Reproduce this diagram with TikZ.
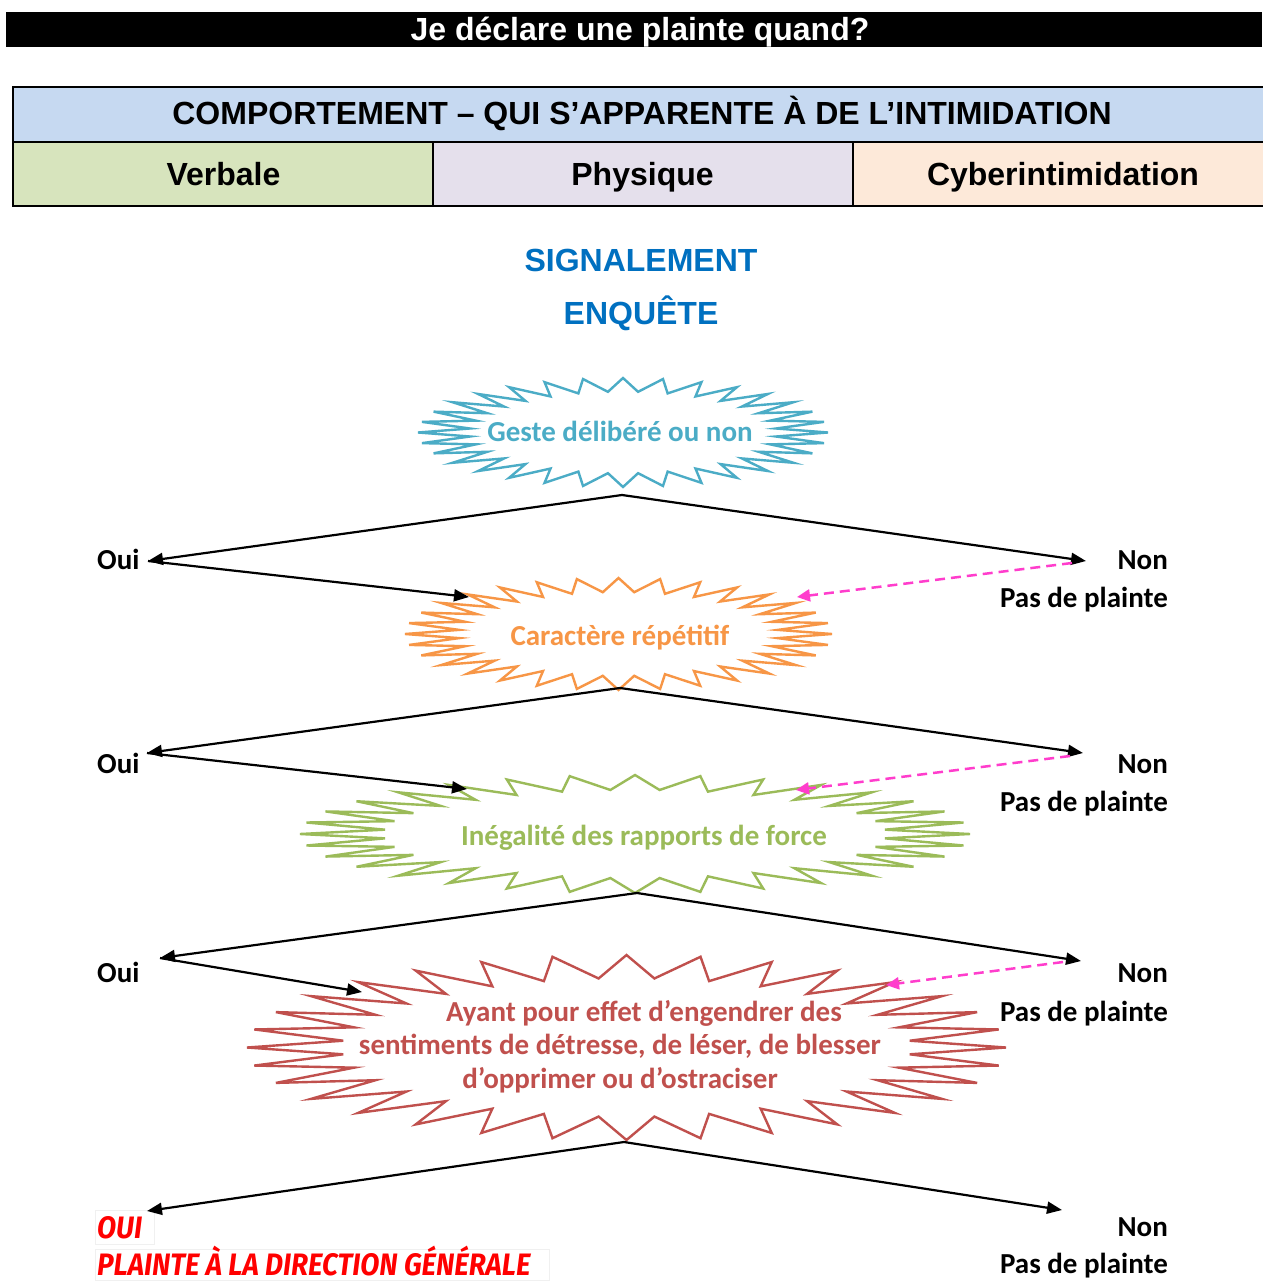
\documentclass[tikz,border=0pt]{standalone}
\usepackage{fontspec}
\usepackage{graphicx}
\usetikzlibrary{arrows.meta}
\newfontfamily\arialf{Liberation Sans}
\newfontfamily\calf{Carlito}
\newfontfamily\redf{Fira Sans}
\definecolor{hdrblue}{HTML}{C6D9F1}
\definecolor{cgreen}{HTML}{D7E4BD}
\definecolor{clav}{HTML}{E5E0EC}
\definecolor{cpeach}{HTML}{FDE9D9}
\definecolor{sigblue}{HTML}{0070C0}
\definecolor{sblue}{HTML}{4BACC6}
\definecolor{sorange}{HTML}{F79646}
\definecolor{sgreen}{HTML}{9BBB59}
\definecolor{sred}{HTML}{C0504D}
\definecolor{pinkc}{HTML}{FF3DCC}
\newcommand\starburst[5]{%
  \draw[#5] ({#1+#3},{#2}) \foreach \k in {1,...,63}{ -- ({#1+#3*(1-0.25*mod(\k,2))*cos(\k*5.625)},{#2+#4*(1-0.25*mod(\k,2))*sin(\k*5.625)}) } -- cycle;}
\begin{document}
\begin{tikzpicture}[x=1pt,y=-1pt,
  arial/.style={font=\arialf\bfseries\fontsize{32}{38}\selectfont, inner sep=0pt},
  cal/.style={font=\calf\bfseries\fontsize{29}{33.5}\selectfont, inner sep=0pt},
  cell/.style={draw=black, line width=2pt, anchor=north west, inner sep=0pt},
  arr/.style={draw=black, line width=2.2pt, -{Triangle[length=15pt,width=12pt]}},
  pinkarr/.style={draw=pinkc, line width=2.5pt, dash pattern=on 10pt off 6pt, -{Triangle[length=13pt,width=12pt]}},
  starline/.style={line width=2.4pt, line join=miter},
  redtxt/.style={font=\redf\bfseries\itshape\fontsize{31}{36}\selectfont, text=red, inner sep=0pt}]
\useasboundingbox (0,0) rectangle (1262,1281);
\fill[white] (0,0) rectangle (1262,1281);
% title bar
\node[fill=black, anchor=north west, minimum width=1256pt, minimum height=35pt, inner sep=0pt] (bar) at (6,12) {};
\node[arial, text=white, anchor=base] (title) at (640,41) {Je déclare une plainte quand?};
% table
\node[cell, fill=hdrblue, minimum width=1252pt, minimum height=55pt] (hdr) at (12,86) {};
\node[cell, fill=cgreen, minimum width=420pt, minimum height=64pt] (c1) at (12,141) {};
\node[cell, fill=clav, minimum width=420pt, minimum height=64pt] (c2) at (432,141) {};
\node[cell, fill=cpeach, minimum width=430pt, minimum height=64pt] (c3) at (852,141) {};
\node[arial, anchor=base] (hdrt) at (642,124.5) {COMPORTEMENT – QUI S’APPARENTE À DE L’INTIMIDATION};
\node[arial, anchor=base] (c1t) at (223.5,185.5) {Verbale};
\node[arial, anchor=base] (c2t) at (642.5,185.5) {Physique};
\node[arial, anchor=base] (c3t) at (1063,185.5) {Cyberintimidation};
% headings
\node[arial, text=sigblue, anchor=base] (sig) at (641,271.5) {SIGNALEMENT};
\node[arial, text=sigblue, anchor=base] (enq) at (641,324.5) {ENQUÊTE};
% starbursts
\starburst{623}{432.5}{205}{54.5}{starline, draw=sblue}
\starburst{618.5}{634}{213.5}{56}{starline, draw=sorange}
\starburst{635}{834}{335}{59}{starline, draw=sgreen}
\starburst{626.5}{1047.5}{379.5}{92.5}{starline, draw=sred}
\node[cal, text=sblue, anchor=base] (s1) at (620,441) {Geste délibéré ou non};
\node[cal, text=sorange, anchor=base] (s2) at (620,645) {Caractère répétitif};
\node[cal, text=sgreen, anchor=base] (s3) at (644,845) {Inégalité des rapports de force};
\node[cal, text=sred, anchor=base, align=center] (s4) at (620,1088) {\hspace*{48pt}Ayant pour effet d’engendrer des\\sentiments de détresse, de léser, de blesser\\d’opprimer ou d’ostraciser};
% labels
\node[cal, anchor=base west] (oui1) at (97,569) {Oui};
\node[cal, anchor=base east] (non1) at (1168,569) {Non};
\node[cal, anchor=base east] (pas1) at (1168,607) {Pas de plainte};
\node[cal, anchor=base west] (oui2) at (97,773) {Oui};
\node[cal, anchor=base east] (non2) at (1168,773) {Non};
\node[cal, anchor=base east] (pas2) at (1168,811) {Pas de plainte};
\node[cal, anchor=base west] (oui3) at (97,982) {Oui};
\node[cal, anchor=base east] (non3) at (1168,982) {Non};
\node[cal, anchor=base east] (pas3) at (1168,1021) {Pas de plainte};
\node[cal, anchor=base east] (non4) at (1168,1236) {Non};
\node[cal, anchor=base east] (pas4) at (1168,1273) {Pas de plainte};
\draw[gray!12, line width=1pt] (95,1210) rectangle (154,1244);
\draw[gray!12, line width=1pt] (95,1249) rectangle (549,1280);
\node[redtxt, anchor=base west] (oui4) at (97,1238) {\scalebox{0.9}[1]{OUI}};
\node[redtxt, anchor=base west] (plainte) at (97,1275) {\scalebox{0.9}[1]{PLAINTE À LA DIRECTION GÉNÉRALE}};
% coordinates
\coordinate (a1) at (622,495);
\coordinate (l1) at (148,561);
\coordinate (r1) at (1086,561);
\coordinate (t1) at (469,597);
\coordinate (p1) at (1072,563);
\coordinate (q1) at (797,597);
\coordinate (a2) at (620,688);
\coordinate (l2) at (147,753);
\coordinate (r2) at (1083,753);
\coordinate (t2) at (467,789);
\coordinate (p2) at (1070,756);
\coordinate (q2) at (796,790);
\coordinate (a3) at (637,893);
\coordinate (l3) at (160,958);
\coordinate (r3) at (1081,961);
\coordinate (t3) at (362,992);
\coordinate (p3) at (1063,962);
\coordinate (q3) at (886,985);
\coordinate (a4) at (624,1142);
\coordinate (l4) at (147,1211);
\coordinate (r4) at (1062,1210);
% connectors
\draw[arr] (a1) -- (l1);
\draw[arr] (a1) -- (r1);
\draw[arr] (l1) -- (t1);
\draw[pinkarr] (p1) -- (q1);
\draw[arr] (a2) -- (l2);
\draw[arr] (a2) -- (r2);
\draw[arr] (l2) -- (t2);
\draw[pinkarr] (p2) -- (q2);
\draw[arr] (a3) -- (l3);
\draw[arr] (a3) -- (r3);
\draw[arr] (l3) -- (t3);
\draw[pinkarr] (p3) -- (q3);
\draw[arr] (a4) -- (l4);
\draw[arr] (a4) -- (r4);
\end{tikzpicture}
\end{document}
